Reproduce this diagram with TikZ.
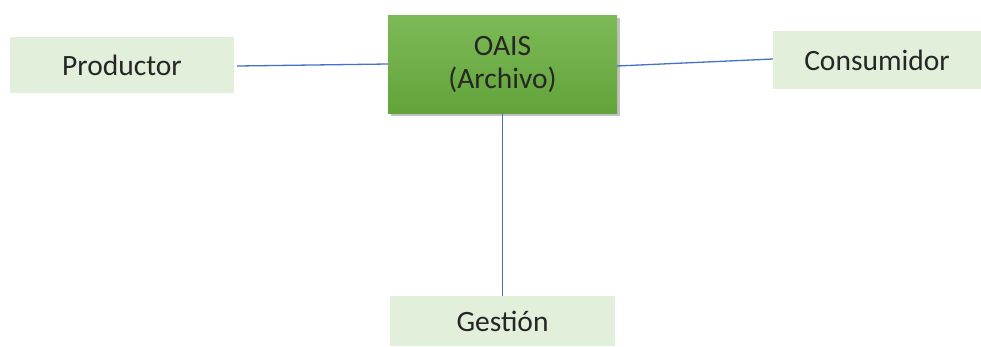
\documentclass[tikz,border=0pt]{standalone}
\usepackage{fontspec}
\setmainfont{Carlito}
\usetikzlibrary{shadows}
\definecolor{paleGreen}{HTML}{E2EFDA}
\definecolor{oaisTop}{HTML}{7DBA57}
\definecolor{oaisBottom}{HTML}{62A33A}
\definecolor{linkBlue}{HTML}{4472C4}
\definecolor{inkDark}{HTML}{262626}
\begin{document}
\begin{tikzpicture}[x=1pt,y=-1pt,
  party/.style={rectangle, fill=paleGreen, draw=none, inner sep=0pt,
    font=\fontsize{29.5}{33}\selectfont, text=inkDark},
  archive/.style={rectangle, top color=oaisTop, bottom color=oaisBottom, draw=none,
    inner sep=0pt, align=center, font=\fontsize{29.5}{33}\selectfont, text=inkDark,
    drop shadow={shadow xshift=3pt, shadow yshift=-3pt, opacity=0.35, fill=black!70}},
  link/.style={draw=linkBlue, line width=1.3pt}]
  \useasboundingbox (0,0) rectangle (981,346);
  \fill[white] (0,0) rectangle (981,346);

  \node[archive, minimum width=229pt, minimum height=98pt] (oais) at (502.5,64) {OAIS\\(Archivo)};
  \node[party, minimum width=224pt, minimum height=56pt] (prod) at (122,65) {Productor};
  \node[party, minimum width=208pt, minimum height=58pt] (cons) at (877,60) {Consumidor};
  \node[party, minimum width=225pt, minimum height=50pt] (gest) at (502.5,321) {Gestión};

  \draw[link] ([xshift=3pt,yshift=-1pt]prod.east) -- (oais.west);
  \draw[link] ([yshift=-2pt]oais.east) -- ([yshift=1pt]cons.west);
  \draw[link] (oais.south) -- (gest.north);
\end{tikzpicture}
\end{document}
